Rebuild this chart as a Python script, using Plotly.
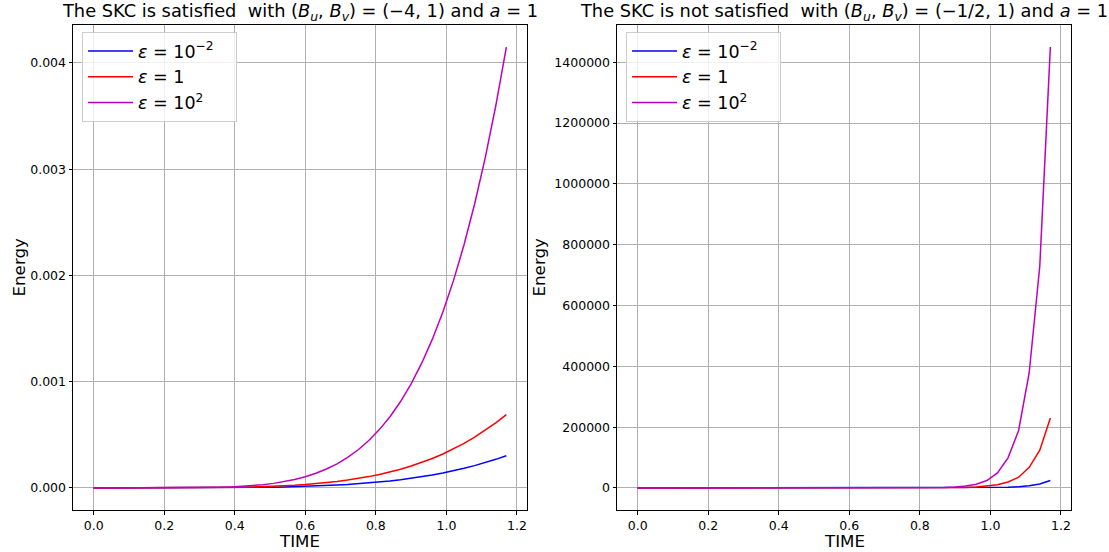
import plotly.graph_objects as go

# ---------------- data ----------------
time = [0.00, 0.03, 0.06, 0.09, 0.12, 0.15, 0.18, 0.21, 0.24, 0.27,
        0.30, 0.33, 0.36, 0.39, 0.42, 0.45, 0.48, 0.51, 0.54, 0.57,
        0.60, 0.63, 0.66, 0.69, 0.72, 0.75, 0.78, 0.81, 0.84, 0.87,
        0.90, 0.93, 0.96, 0.99, 1.02, 1.05, 1.08, 1.11, 1.14, 1.17]

# Left panel (SKC satisfied), energies
left_eps_1em2 = [0.0, 1e-11, 4e-10, 3e-9, 1.2e-8, 2.4e-8, 5.5e-8, 1.12e-7, 2.08e-7, 3.56e-7,
                 5.81e-7, 8.98e-7, 1.34e-6, 1.94e-6, 2.72e-6, 3.74e-6, 5.04e-6, 6.66e-6, 8.65e-6, 1.11e-5,
                 1.406e-5, 1.76e-5, 2.18e-5, 2.674e-5, 3.253e-5, 3.925e-5, 4.699e-5, 5.592e-5, 6.609e-5, 7.766e-5,
                 9.077e-5, 1.056e-4, 1.222e-4, 1.408e-4, 1.615e-4, 1.845e-4, 2.101e-4, 2.383e-4, 2.693e-4, 3.035e-4]
left_eps_1 = [0.0, 3e-11, 8e-10, 5e-9, 2e-8, 5.4e-8, 1.26e-7, 2.55e-7, 4.72e-7, 8.1e-7,
              1.32e-6, 2.04e-6, 3.05e-6, 4.41e-6, 6.19e-6, 8.51e-6, 1.145e-5, 1.514e-5, 1.966e-5, 2.523e-5,
              3.196e-5, 4.0e-5, 4.955e-5, 6.077e-5, 7.393e-5, 8.921e-5, 1.068e-4, 1.271e-4, 1.502e-4, 1.765e-4,
              2.063e-4, 2.399e-4, 2.777e-4, 3.199e-4, 3.67e-4, 4.193e-4, 4.774e-4, 5.415e-4, 6.12e-4, 6.898e-4]
left_eps_1e2 = [0.0, 7e-12, 3e-10, 3e-9, 1.5e-8, 5.1e-8, 1.4e-7, 3.3e-7, 6.8e-7, 1.31e-6,
                2.33e-6, 3.94e-6, 6.35e-6, 9.87e-6, 1.482e-5, 2.167e-5, 3.09e-5, 4.31e-5, 5.9e-5, 7.95e-5,
                1.054e-4, 1.379e-4, 1.78e-4, 2.273e-4, 2.874e-4, 3.596e-4, 4.461e-4, 5.492e-4, 6.706e-4, 8.136e-4,
                9.804e-4, 1.1741e-3, 1.3981e-3, 1.6559e-3, 1.9514e-3, 2.2887e-3, 2.6723e-3, 3.107e-3, 3.5973e-3, 4.15e-3]

# Right panel (SKC not satisfied), energies
right_eps_1em2 = [0, 1e-6, 2e-6, 5e-6, 1e-5, 2e-5, 3e-5, 6e-5, 1e-4, 2e-4,
                  4e-4, 8e-4, 1.5e-3, 2.7e-3, 5e-3, 9e-3, 0.017, 0.032, 0.06, 0.11,
                  0.2, 0.38, 0.7, 1.3, 2.4, 4.4, 8.2, 15, 28, 52,
                  96, 178, 330, 610, 1120, 2080, 3850, 7100, 13200, 24400]
right_eps_1 = [0, 1e-5, 2e-5, 5e-5, 9e-5, 1.6e-4, 3e-4, 6e-4, 1e-3, 2e-3,
               4e-3, 8e-3, 0.015, 0.027, 0.05, 0.09, 0.17, 0.31, 0.58, 1.08,
               2.0, 3.7, 6.8, 12.5, 23, 43, 79, 146, 270, 500,
               920, 1700, 3100, 5800, 10700, 19800, 35300, 68000, 124000, 230000]
right_eps_1e2 = [0, 1e-5, 2e-5, 5e-5, 1e-4, 2e-4, 4e-4, 8e-4, 1.5e-3, 3e-3,
                 5e-3, 0.01, 0.02, 0.04, 0.08, 0.15, 0.3, 0.58, 1.1, 2.2,
                 4.2, 8.2, 16, 31, 60, 118, 230, 450, 870, 1700,
                 3300, 6400, 12500, 24400, 49400, 99000, 189000, 379000, 730000, 1450000]

series_names = ["<i>ε</i> = 10<sup>−2</sup>\u00a0\u00a0\u00a0", "<i>ε</i> = 1", "<i>ε</i> = 10<sup>2</sup>"]
series_colors = ["#0000ff", "#ff0000", "#bf00bf"]

titles = ["The SKC is satisfied  with (<i>B<sub>u</sub></i>, <i>B<sub>v</sub></i>) = (−4, 1) and <i>a</i> = 1",
          "The SKC is not satisfied  with (<i>B<sub>u</sub></i>, <i>B<sub>v</sub></i>) = (−1/2, 1) and <i>a</i> = 1"]

# ---------------- figure ----------------
W, H = 1109, 552
FONT = "DejaVu Sans"


def X(px):
    return px / W


def Y(py):
    return 1 - py / H


fig = go.Figure()

panels = [
    ("x", "y", "legend", [left_eps_1em2, left_eps_1, left_eps_1e2]),
    ("x2", "y2", "legend2", [right_eps_1em2, right_eps_1, right_eps_1e2]),
]
for xa, ya, leg, data in panels:
    for name, color, vals in zip(series_names, series_colors, data):
        fig.add_trace(go.Scatter(x=time, y=vals, mode="lines", name=name,
                                 line=dict(color=color, width=1.5),
                                 xaxis=xa, yaxis=ya, legend=leg))


def yrange(data):
    lo = min(min(v) for v in data)
    hi = max(max(v) for v in data)
    pad = 0.05 * (hi - lo)
    return [lo - pad, hi + pad]


xpad = 0.05 * (max(time) - min(time))
xr = [min(time) - xpad, max(time) + xpad]

px_l = (73, 527)
px_r = (617, 1071)
py = (25, 510)
dom_y = [Y(py[1]), Y(py[0])]

axis_common = dict(ticks="outside", ticklen=3.5, tickwidth=1, tickcolor="black",
                   showgrid=True, gridcolor="#b0b0b0", gridwidth=0.8,
                   showline=True, mirror=True, linecolor="black", linewidth=1,
                   zeroline=False, tickfont=dict(family=FONT, size=12.5, color="black"))

legend_common = dict(xanchor="left", yanchor="top", xref="paper", yref="paper",
                     bgcolor="rgba(255,255,255,0.8)", bordercolor="#cccccc", borderwidth=1,
                     itemwidth=45,
                     font=dict(family=FONT, size=17.5, color="black"))

fig.update_layout(
    width=W, height=H,
    margin=dict(l=0, r=0, t=0, b=0),
    paper_bgcolor="white", plot_bgcolor="white",
    font=dict(family=FONT, color="black"),
    xaxis=dict(domain=[X(px_l[0]), X(px_l[1])], anchor="y", range=xr,
               dtick=0.2, tick0=0, tickformat=".1f", **axis_common),
    yaxis=dict(domain=dom_y, anchor="x", range=yrange(panels[0][3]),
               dtick=0.001, tick0=0, tickformat=".3f", **axis_common),
    xaxis2=dict(domain=[X(px_r[0]), X(px_r[1])], anchor="y2", range=xr,
                dtick=0.2, tick0=0, tickformat=".1f", **axis_common),
    yaxis2=dict(domain=dom_y, anchor="x2", range=yrange(panels[1][3]),
                dtick=200000, tick0=0, tickformat="d", **axis_common),
    legend=dict(x=X(82), y=Y(32), **legend_common),
    legend2=dict(x=X(626), y=Y(32), **legend_common),
    showlegend=True,
)

annotations = []
for (px, title) in zip([px_l, px_r], titles):
    cx = X((px[0] + px[1]) / 2)
    annotations.append(dict(text=title, x=cx, y=Y(12), xref="paper", yref="paper",
                            xanchor="center", yanchor="middle", showarrow=False,
                            font=dict(family=FONT, size=17.8, color="black")))
    annotations.append(dict(text="TIME", x=cx, y=Y(541), xref="paper", yref="paper",
                            xanchor="center", yanchor="middle", showarrow=False,
                            font=dict(family=FONT, size=16.7, color="black")))
for xpix in [18, 538]:
    annotations.append(dict(text="Energy", x=X(xpix), y=Y((py[0] + py[1]) / 2),
                            xref="paper", yref="paper", xanchor="center", yanchor="middle",
                            textangle=-90, showarrow=False,
                            font=dict(family=FONT, size=16.7, color="black")))
fig.update_layout(annotations=annotations)

fig.write_html("out.html", config={"displayModeBar": False},
               post_script="document.body.style.margin='0';document.body.style.padding='0';")
